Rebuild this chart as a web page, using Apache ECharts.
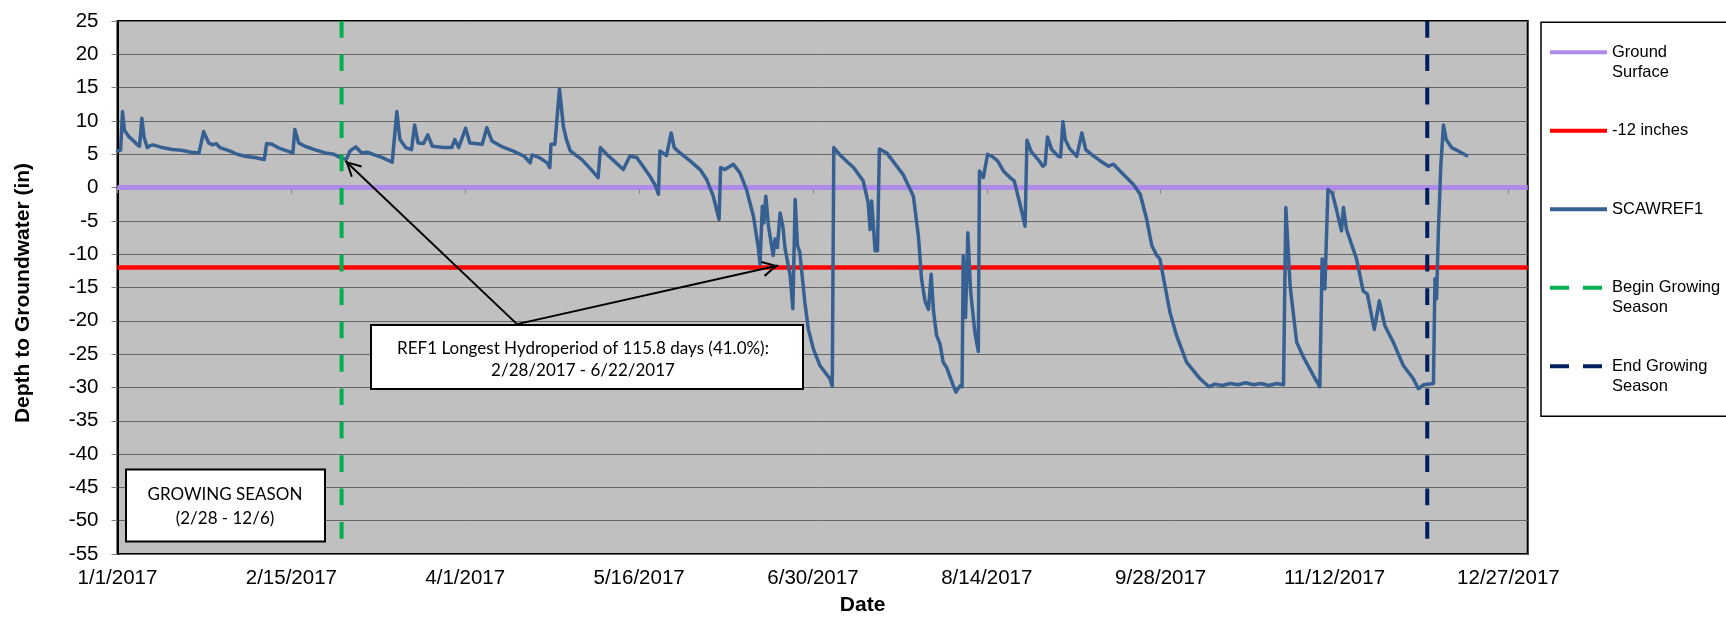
<!DOCTYPE html>
<html>
<head>
<meta charset="utf-8">
<title>SCAWREF1 depth to groundwater 2017</title>
<script src="https://cdn.jsdelivr.net/npm/echarts@6/dist/echarts.min.js"></script>
<style>
  html, body { margin: 0; padding: 0; background: #fff; }
  #chart { width: 1726px; height: 621px; }
</style>
</head>
<body>
<div id="chart"></div>
<script>
// x values are days since 1/1/2017, y values are inches
const days = [
  0, 0.8, 1.3, 1.8, 2.3, 3.0, 3.8, 5.0, 5.7, 6.3, 6.9, 7.7, 8.5, 9.2, 11.0, 12.5, 14.2, 16.5, 19.1, 21.1,
  22.3, 23.6, 24.6, 25.5, 26.5, 29.0, 31.0, 33.0, 35.5, 38.0, 38.6, 40.0, 41.5, 42.9, 45.4, 45.9, 46.9, 48.5, 51.0, 53.8,
  56.0, 57.7, 59.2, 60.2, 61.7, 63.2, 64.7, 66.5, 68.6, 71.1, 72.3, 73.1, 74.6, 76.1, 76.9, 77.8, 79.2, 80.3, 81.5, 84.5,
  86.5, 87.3, 88.3, 90.1, 91.2, 94.4, 95.6, 96.9, 99.3, 102.3, 105.3, 106.8, 107.3, 109.2, 111.2, 111.9, 112.2, 113.2, 114.4, 115.4,
  116.2, 117.2, 120.2, 122.6, 124.4, 125.0, 126.6, 128.5, 130.9, 132.6, 134.4, 136.5, 137.8, 139.3, 140.0, 140.4, 142.1, 143.3, 144.1, 145.6,
  148.2, 150.8, 152.5, 154.2, 155.7, 156.1, 157.2, 159.4, 161.1, 162.8, 164.6, 165.9, 166.3, 166.9, 167.3, 167.8, 168.5, 169.7, 170.2, 170.8,
  171.5, 172.2, 172.8, 174.1, 174.8, 175.4, 176.0, 176.6, 177.9, 178.8, 180.1, 181.8, 184.4, 185.0, 185.4, 187.0, 189.2, 190.5, 193.0, 194.3,
  194.8, 195.2, 196.1, 196.7, 197.2, 199.1, 200.8, 203.4, 206.0, 207.3, 208.1, 209.0, 209.9, 210.6, 211.2, 212.0, 212.9, 213.7, 214.6, 215.5,
  216.3, 217.0, 218.0, 218.6, 218.9, 219.5, 220.1, 220.8, 221.9, 222.8, 223.1, 224.1, 225.2, 226.3, 227.8, 229.3, 231.0, 232.1, 233.6, 234.9,
  235.4, 236.5, 238.3, 239.5, 240.1, 240.7, 241.8, 243.5, 244.1, 244.7, 245.3, 246.5, 248.3, 249.6, 250.6, 252.5, 254.4, 256.5, 257.8, 260.3,
  262.9, 264.7, 266.4, 267.7, 269.0, 269.8, 271.1, 272.4, 274.1, 276.7, 280.2, 282.5, 284, 286, 288, 290, 292, 294, 296, 298,
  300, 301.8, 302.4, 303.5, 305.2, 306.9, 309.5, 311.2, 311.8, 312.5, 313.3, 314.4, 315.5, 316.8, 317.3, 318.1, 320.7, 322.4, 323.5, 325.3,
  326.6, 328.0, 330.2, 332.8, 335.4, 336.7, 338.0, 340.6, 341.0, 341.4, 341.9, 342.5, 343.2, 343.9, 345.3, 347.0, 349.2
];
const depth = [
  5.5, 5.6, 11.4, 8.6, 8.4, 7.6, 7.2, 6.5, 6.2, 10.4, 7.5, 6.0, 6.3, 6.4, 6.1, 5.9, 5.7, 5.6, 5.3, 5.2,
  8.4, 6.7, 6.4, 6.6, 6.0, 5.5, 5.0, 4.7, 4.5, 4.2, 6.6, 6.5, 6.0, 5.7, 5.2, 8.7, 6.7, 6.2, 5.7, 5.2,
  5.0, 4.5, 4.2, 5.5, 6.1, 5.2, 5.3, 4.9, 4.5, 3.8, 11.4, 7.2, 6.0, 5.7, 9.4, 6.7, 6.6, 7.9, 6.2, 6.0,
  6.0, 7.2, 6.0, 8.9, 6.7, 6.5, 9.0, 7.0, 6.2, 5.5, 4.7, 3.7, 4.9, 4.5, 3.7, 3.0, 6.5, 6.5, 14.8, 9.2,
  7.2, 5.5, 4.2, 2.7, 1.5, 6.0, 5.0, 4.0, 2.7, 4.7, 4.5, 2.8, 1.7, 0.2, -1.0, 5.5, 4.8, 8.2, 6.0, 5.2,
  4.0, 2.7, 1.2, -1.3, -4.8, 3.0, 2.7, 3.5, 2.2, -0.3, -4.3, -9.2, -11.5, -2.8, -5.3, -1.3, -5.8, -10.2, -7.7, -9.0,
  -3.8, -5.8, -9.2, -13.2, -18.2, -1.8, -8.7, -9.7, -17.2, -21.2, -24.2, -26.7, -28.7, -29.8, 6.0, 4.9, 3.7, 3.0, 1.0, -2.3,
  -6.3, -2.0, -9.5, -9.5, 5.8, 5.2, 3.9, 1.9, -1.3, -7.3, -13.7, -17.0, -18.3, -13.0, -18.5, -22.2, -23.5, -26.2, -27.0, -28.4,
  -29.7, -30.7, -29.8, -29.9, -10.2, -19.5, -6.8, -15.5, -21.7, -24.6, 2.5, 1.5, 5.0, 4.7, 4.0, 2.5, 1.5, 1.0, -2.5, -5.8,
  7.1, 5.4, 4.2, 3.2, 3.5, 7.6, 5.7, 4.7, 4.6, 9.9, 7.2, 5.8, 4.7, 8.2, 5.7, 4.8, 4.0, 3.2, 3.5, 2.0,
  0.5, -1.0, -4.8, -8.7, -10.2, -10.7, -14.7, -18.7, -22.2, -26.2, -28.7, -29.9, -29.5, -29.7, -29.4, -29.6, -29.3, -29.6, -29.4, -29.7,
  -29.4, -29.6, -3.0, -14.7, -23.2, -25.4, -28.2, -29.9, -10.7, -15.2, -0.3, -0.8, -3.3, -6.5, -3.0, -6.3, -10.7, -15.5, -16.0, -21.3,
  -17.0, -20.7, -23.2, -26.7, -28.7, -30.2, -29.6, -29.4, -13.7, -16.7, -6.3, 3.2, 9.4, 7.2, 6.0, 5.5, 4.8
];

// reference lines
const lineX = [0, 365];
const groundSurface = [0, 0];
const minus12 = [-12, -12];
const seasonY = [25, -55];
const beginSeasonX = [58, 58];   // 2/28
const endSeasonX = [339, 339];   // 12/6

// arrows of the hydroperiod note: tail on the box, tips on the curve
const arrowTail = [103.4, -20.5];
const arrowTips = [[59.0, 4.0], [171.0, -11.7]];

const legendNames = ['Ground Surface', '-12 inches', 'SCAWREF1', 'Begin Growing Season', 'End Growing Season'];
const legendLabels = ['Ground\nSurface', '-12 inches', 'SCAWREF1', 'Begin Growing\nSeason', 'End Growing\nSeason'];

const noteText = 'REF1 Longest Hydroperiod of 115.8 days (41.0%):\n2/28/2017 - 6/22/2017';
const seasonText = 'GROWING SEASON\n(2/28 - 12/6)';

const AXIS_FONT = '"Liberation Sans", Arial, sans-serif';
const solidIcon = 'path://M0,0H57V4H0Z';
const dashIcon = 'path://M0,0H19V4H0ZM33,0H52V4H33ZM56.9,0H57V4H56.9Z';
const arrowHead = 'path://M0,0L8,15L6.2,15.9L0,4.2L-6.2,15.9L-8,15Z';

function dayLabel(v) {
  const d = new Date(Date.UTC(2017, 0, 1) + v * 86400000);
  return (d.getUTCMonth() + 1) + '/' + d.getUTCDate() + '/' + d.getUTCFullYear();
}

function pairs(xs, ys) {
  return xs.map((x, i) => [x, ys[i]]);
}

function isTwoLine(name) {
  return legendLabels[legendNames.indexOf(name)].indexOf('\n') >= 0;
}

function refLine(name, xs, ys, color, width, dash) {
  return {
    name: name,
    type: 'line',
    data: pairs(xs, ys),
    symbol: 'none',
    color: color,
    itemStyle: { color: color },
    lineStyle: { color: color, width: width, type: dash || 'solid' },
    silent: true
  };
}

const chart = echarts.init(document.getElementById('chart'));

// every legend entry gets a 60px tall text block whose first line sits on the icon
const legendData = legendNames.map((name, i) => ({
  name: name,
  icon: i >= 3 ? dashIcon : solidIcon,
  textStyle: { padding: isTwoLine(name) ? 0 : [20, 0, 20, 0] }
}));

chart.setOption({
  animation: false,
  textStyle: { fontFamily: AXIS_FONT },
  grid: {
    left: 117.5, right: 198.3, top: 21, bottom: 65,
    show: true, backgroundColor: '#C0C0C0', borderColor: '#000', borderWidth: 2
  },
  legend: {
    orient: 'vertical',
    left: 1541, top: 22.3,
    padding: [0, 60, 20, 9],
    itemGap: 18.5,
    itemWidth: 57, itemHeight: 4,
    borderColor: '#000', borderWidth: 1.5, backgroundColor: '#fff',
    itemStyle: { borderWidth: 0 },
    textStyle: { fontFamily: AXIS_FONT, fontSize: 16.5, lineHeight: 20, color: '#000' },
    formatter: name => (isTwoLine(name) ? '\n' : '') + legendLabels[legendNames.indexOf(name)],
    data: legendData
  },
  xAxis: {
    type: 'value',
    min: 0, max: 365, interval: 45,
    name: 'Date',
    nameLocation: 'middle',
    nameGap: 41,
    nameTextStyle: { fontFamily: AXIS_FONT, fontSize: 21, fontWeight: 'bold', color: '#000', padding: [0, 0, 0, 80] },
    axisLine: { show: true, lineStyle: { color: '#000', width: 2 } },
    axisTick: { show: true, length: 6, lineStyle: { color: '#808080', width: 1 } },
    axisLabel: { formatter: dayLabel, fontFamily: AXIS_FONT, fontSize: 20.5, color: '#000', margin: 14, showMaxLabel: false },
    splitLine: { show: false }
  },
  yAxis: {
    type: 'value',
    min: -55, max: 25, interval: 5,
    name: 'Depth to Groundwater (in)',
    nameLocation: 'middle',
    nameRotate: 90,
    nameGap: 84,
    nameTextStyle: { fontFamily: AXIS_FONT, fontSize: 21, fontWeight: 'bold', color: '#000', padding: [0, 11, 0, 0] },
    axisLine: { show: true, lineStyle: { color: '#000', width: 2 } },
    axisTick: { show: true, length: 6, lineStyle: { color: '#808080', width: 1 } },
    axisLabel: { fontFamily: AXIS_FONT, fontSize: 20.5, color: '#000', margin: 19 },
    splitLine: { show: true, lineStyle: { color: '#666', width: 1 } }
  },
  series: [
    refLine('Ground Surface', lineX, groundSurface, '#B08AEA', 5),
    refLine('-12 inches', lineX, minus12, '#FF0000', 4.5),
    {
      name: 'SCAWREF1',
      type: 'line',
      data: pairs(days, depth),
      symbol: 'none',
      color: '#376092',
      itemStyle: { color: '#376092' },
      lineStyle: { color: '#376092', width: 3.5, join: 'round', cap: 'round' },
      markLine: {
        silent: true,
        symbol: ['none', arrowHead],
        symbolSize: 16,
        symbolOffset: [[0, 0], [0, 8]],
        label: { show: false },
        lineStyle: { color: '#000', width: 2, type: 'solid' },
        itemStyle: { color: '#000' },
        emphasis: { disabled: true },
        data: arrowTips.map(tip => [{ coord: arrowTail }, { coord: tip }])
      }
    },
    refLine('Begin Growing Season', beginSeasonX, seasonY, '#00B050', 4, [16.7, 16.7]),
    refLine('End Growing Season', endSeasonX, seasonY, '#002060', 4, [16.7, 16.7])
  ],
  graphic: [
    {
      type: 'rect', z: 100,
      shape: { x: 371, y: 325, width: 432, height: 64 },
      style: { fill: '#fff', stroke: '#000', lineWidth: 2 }
    },
    {
      type: 'text', z: 101, x: 583, y: 359.5,
      style: {
        text: noteText, fontFamily: 'Lato', fontSize: 17, lineHeight: 22.5,
        align: 'center', verticalAlign: 'middle', fill: '#000'
      }
    },
    {
      type: 'rect', z: 100,
      shape: { x: 126, y: 469.5, width: 199, height: 72 },
      style: { fill: '#fff', stroke: '#000', lineWidth: 2 }
    },
    {
      type: 'text', z: 101, x: 225, y: 506.3,
      style: {
        text: seasonText, fontFamily: 'Lato', fontSize: 17, lineHeight: 24,
        align: 'center', verticalAlign: 'middle', fill: '#000'
      }
    }
  ]
});
</script>
</body>
</html>
